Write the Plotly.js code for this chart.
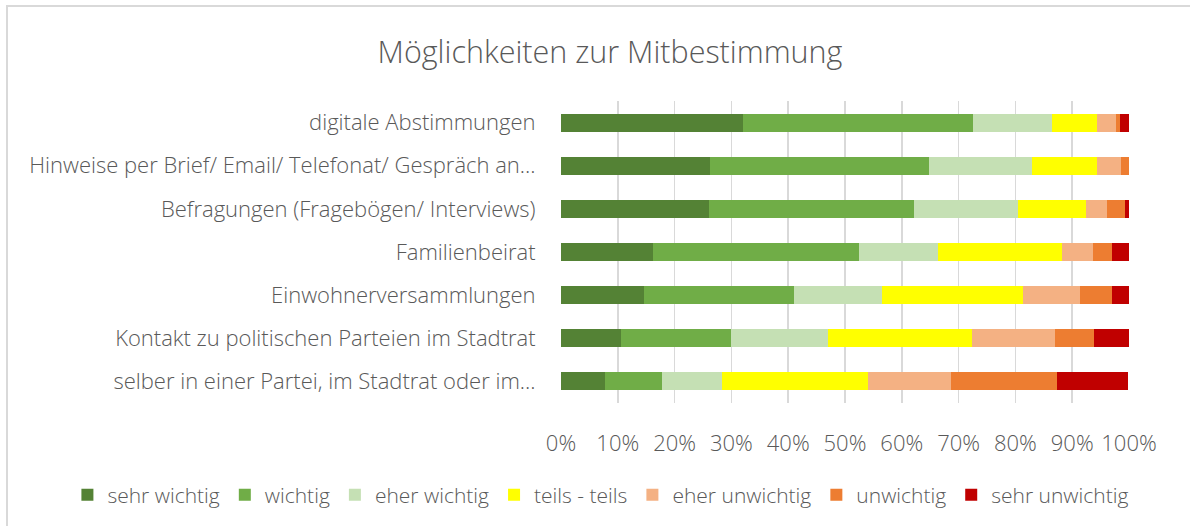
<!DOCTYPE html>
<html>
<head>
<meta charset="utf-8">
<script src="https://cdn.plot.ly/plotly-3.0.1.min.js"></script>
<style>
html,body{margin:0;padding:0;background:#fff;overflow:hidden;}
#frame{position:absolute;left:6px;top:5px;width:1300px;height:600px;border-left:2px solid #d9d9d9;border-top:2px solid #d9d9d9;}
#chart{position:absolute;left:0;top:0;width:1190px;height:526px;}
</style>
</head>
<body>
<div id="frame"></div>
<div id="chart"></div>
<script>
const categories = [
  "digitale Abstimmungen",
  "Hinweise per Brief/ Email/ Telefonat/ Gespräch an…",
  "Befragungen (Fragebögen/ Interviews)",
  "Familienbeirat",
  "Einwohnerversammlungen",
  "Kontakt zu politischen Parteien im Stadtrat",
  "selber in einer Partei, im Stadtrat oder im…"
];
const seriesNames = ["sehr wichtig","wichtig","eher wichtig","teils - teils","eher unwichtig","unwichtig","sehr unwichtig"];
const sehrWichtig   = [32.0, 26.2, 26.0, 16.2, 14.6, 10.5, 7.8];
const wichtig       = [40.5, 38.5, 36.1, 36.3, 26.4, 19.4, 10.0];
const eherWichtig   = [13.9, 18.3, 18.3, 13.9, 15.6, 17.1, 10.5];
const teilsTeils    = [7.9, 11.3, 12.0, 21.8, 24.7, 25.4, 25.8];
const eherUnwichtig = [3.4, 4.3, 3.7, 5.5, 10.0, 14.5, 14.5];
const unwichtig     = [0.7, 1.4, 3.2, 3.3, 5.7, 7.0, 18.8];
const sehrUnwichtig = [1.6, 0.0, 0.7, 3.0, 3.0, 6.1, 12.5];
const tickVals = [0,10,20,30,40,50,60,70,80,90,100];
const tickText = ["0%","10%","20%","30%","40%","50%","60%","70%","80%","90%","100%"];

const colors = ["#548235","#70ad47","#c5e0b4","#ffff00","#f4b183","#ed7d31","#c00000"];
const values = [sehrWichtig, wichtig, eherWichtig, teilsTeils, eherUnwichtig, unwichtig, sehrUnwichtig];

const FONT = "Open Sans, Segoe UI, sans-serif";
const traces = values.map((v,i)=>({
  type:"bar", orientation:"h", name:seriesNames[i],
  x:v, y:categories,
  marker:{color:colors[i], line:{width:0}},
  hoverinfo:"skip"
}));

const layout = {
  width:1190, height:526,
  paper_bgcolor:"rgba(0,0,0,0)", plot_bgcolor:"rgba(0,0,0,0)",
  barmode:"stack", bargap:0.58,
  margin:{l:561, r:61, t:101, b:123, autoexpand:false},
  font:{family:FONT, color:"#595959", size:22},
  title:{text:"Möglichkeiten zur Mitbestimmung", xref:"container", x:0.5126, xanchor:"center",
         yref:"container", y:0.90, yanchor:"middle",
         font:{family:FONT, size:30.5, color:"#595959", weight:300}},
  xaxis:{range:[0,100], tickvals:tickVals, ticktext:tickText, showgrid:true, gridcolor:"#d9d9d9", gridwidth:1.5,
         zeroline:false, showline:false, ticks:"outside", ticklen:21, tickcolor:"rgba(0,0,0,0)",
         tickfont:{size:22, color:"#595959", weight:300}, fixedrange:true, automargin:false},
  yaxis:{autorange:"reversed", showgrid:false, zeroline:false, showline:false, ticks:"outside", ticklen:20, tickcolor:"rgba(0,0,0,0)",
         tickfont:{size:22, color:"#595959", weight:300}, fixedrange:true, automargin:false},
  showlegend:true,
  legend:{orientation:"h", x:-0.869, xref:"paper", xanchor:"left", y:-0.305, yref:"paper", yanchor:"middle",
          font:{size:21, color:"#595959", weight:300}, itemwidth:30, traceorder:"normal", tracegroupgap:0, itemclick:false},
};
Plotly.newPlot("chart", traces, layout, {displayModeBar:false, staticPlot:true});
</script>
</body>
</html>
